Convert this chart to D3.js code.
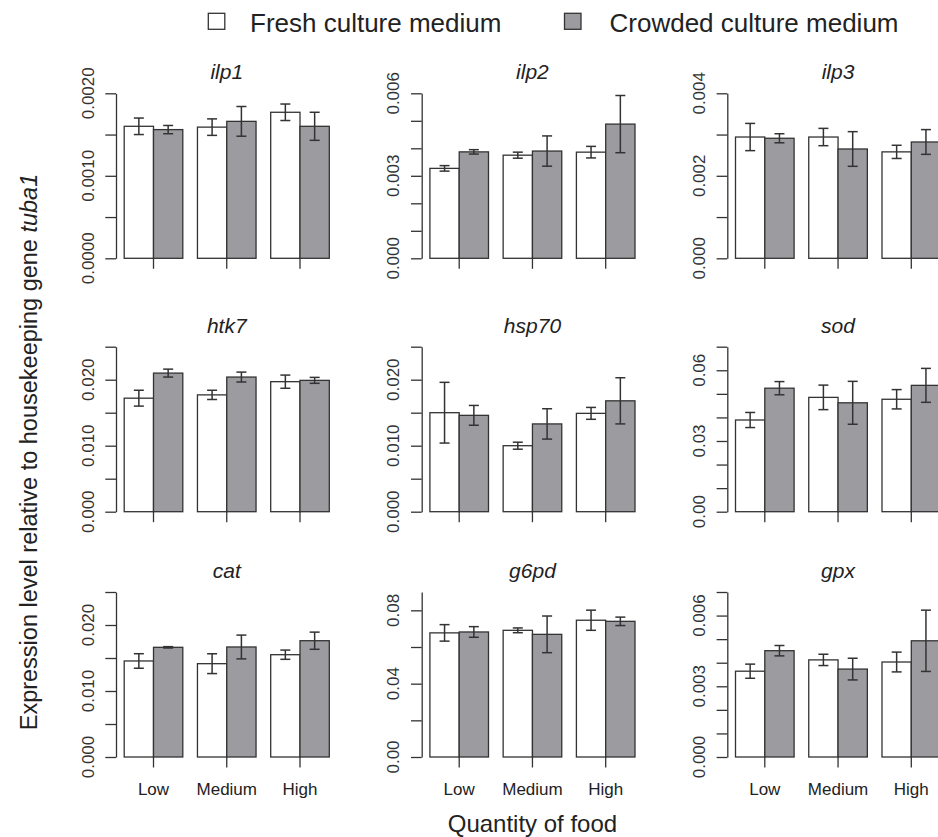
<!DOCTYPE html>
<html>
<head>
<meta charset="utf-8">
<script src="https://cdn.jsdelivr.net/npm/d3@7"></script>
<style>
  body { margin: 0; background: #fff; }
  svg { display: block; font-family: "Liberation Sans", Arial, sans-serif; }
</style>
</head>
<body>
<svg id="chart" width="938" height="837"></svg>
<script>
// gene panels, row by row
const genes = ['ilp1', 'ilp2', 'ilp3', 'htk7', 'hsp70', 'sod', 'cat', 'g6pd', 'gpx'];
const foods = ['Low', 'Medium', 'High'];
const seriesNames = ['Fresh culture medium', 'Crowded culture medium'];

// means and standard errors, one array per gene: [Low, Medium, High]
const freshMean = [
    [0.00160, 0.00159, 0.00177],
    [0.00327, 0.00375, 0.00386],
    [0.00294, 0.00294, 0.00258],
    [0.0172, 0.0177, 0.0197],
    [0.0150, 0.0100, 0.0149],
    [0.0389, 0.0485, 0.0477],
    [0.01455, 0.01414, 0.0155],
    [0.0677, 0.0691, 0.0746],
    [0.00364, 0.00412, 0.00403]
];
const freshSE = [
    [0.00010, 0.00010, 0.00010],
    [0.00010, 0.00011, 0.00021],
    [0.00033, 0.00021, 0.00016],
    [0.0012, 0.0007, 0.0010],
    [0.0046, 0.00053, 0.0009],
    [0.0032, 0.0052, 0.0041],
    [0.0011, 0.0015, 0.0007],
    [0.0045, 0.0013, 0.0055],
    [0.0003, 0.00024, 0.00042]
];
const crowdedMean = [
    [0.00156, 0.00166, 0.00160],
    [0.00387, 0.00390, 0.00488],
    [0.00291, 0.00265, 0.00282],
    [0.0210, 0.0204, 0.0199],
    [0.0146, 0.0133, 0.0168],
    [0.0524, 0.0462, 0.0536],
    [0.01662, 0.01667, 0.01762],
    [0.0682, 0.0669, 0.0740],
    [0.00451, 0.00373, 0.00493]
];
const crowdedSE = [
    [0.00005, 0.00018, 0.00017],
    [0.00008, 0.00055, 0.00104],
    [0.00011, 0.00042, 0.00030],
    [0.0006, 0.00075, 0.00045],
    [0.0015, 0.0023, 0.0035],
    [0.0028, 0.0091, 0.0072],
    [0.0001, 0.0018, 0.0013],
    [0.0029, 0.0100, 0.0023],
    [0.00022, 0.00046, 0.0013]
];

// y axis top and ticks per panel
const yMax = [0.002, 0.006, 0.004, 0.025, 0.025, 0.07, 0.025, 0.09, 0.007];
const yTicks = [
    [0, 0.0005, 0.001, 0.0015, 0.002],
    [0, 0.001, 0.002, 0.003, 0.004, 0.005, 0.006],
    [0, 0.001, 0.002, 0.003, 0.004],
    [0, 0.005, 0.01, 0.015, 0.02, 0.025],
    [0, 0.005, 0.01, 0.015, 0.02, 0.025],
    [0, 0.01, 0.02, 0.03, 0.04, 0.05, 0.06, 0.07],
    [0, 0.005, 0.01, 0.015, 0.02, 0.025],
    [0, 0.02, 0.04, 0.06, 0.08],
    [0, 0.001, 0.002, 0.003, 0.004, 0.005, 0.006, 0.007]
];
const yLabels = [
    ['0.0000', '0.0010', '0.0020'],
    ['0.000', '0.003', '0.006'],
    ['0.000', '0.002', '0.004'],
    ['0.000', '0.010', '0.020'],
    ['0.000', '0.010', '0.020'],
    ['0.00', '0.03', '0.06'],
    ['0.000', '0.010', '0.020'],
    ['0.00', '0.04', '0.08'],
    ['0.000', '0.003', '0.006']
];

const ink = '#333';
const fills = ['#ffffff', '#9c9ca0'];
const colLeft = [116, 421.7, 727.3];
const rowTop = [93.3, 346.7, 592];
const plotW = 221.5, plotH = 165;

const svg = d3.select('#chart');

// legend
const legend = svg.append('g');
[[208.3, 250], [564.5, 609.5]].forEach(function(p, i) {
    legend.append('rect')
        .attr('x', p[0]).attr('y', 13.3)
        .attr('width', 16.5).attr('height', 16)
        .attr('fill', fills[i]).attr('stroke', ink).attr('stroke-width', 1.3);
    legend.append('text')
        .attr('x', p[1]).attr('y', 31.5)
        .attr('fill', '#222')
        .style('font-size', '26px')
        .text(seriesNames[i]);
});

// R barplot style units: bars width 1, groups separated by 0.5, 4% padding
const x = d3.scaleLinear().domain([0.22, 7.78]).range([0, plotW]);

function drawPanel(k) {
    const col = k % 3, row = Math.floor(k / 3);
    const g = svg.append('g')
        .attr('transform', 'translate(' + colLeft[col] + ',' + rowTop[row] + ')');
    const y = d3.scaleLinear().domain([0, yMax[k]]).range([plotH, 0]);

    g.append('text')
        .attr('x', plotW / 2).attr('y', -14)
        .attr('text-anchor', 'middle')
        .style('font-size', '21px').style('font-style', 'italic')
        .attr('fill', '#222')
        .text(genes[k]);

    let bars = [];
    for (let i = 0; i < foods.length; i++) {
        let start = 0.5 + i * 2.5;
        bars.push({x0: start, m: freshMean[k][i], se: freshSE[k][i], s: 0});
        bars.push({x0: start + 1, m: crowdedMean[k][i], se: crowdedSE[k][i], s: 1});
    }

    g.selectAll('rect.bar')
        .data(bars)
        .enter().append('rect')
        .attr('class', 'bar')
        .attr('x', function(d) { return x(d.x0); })
        .attr('width', function(d) { return x(d.x0 + 1) - x(d.x0); })
        .attr('y', function(d) { return y(d.m); })
        .attr('height', function(d) { return plotH - y(d.m); })
        .attr('fill', function(d) { return fills[d.s]; })
        .attr('stroke', ink).attr('stroke-width', 1.3);

    const err = g.append('g').attr('stroke', ink).attr('stroke-width', 1.5);
    bars.forEach(function(d) {
        let cx = x(d.x0 + 0.5);
        err.append('line')
            .attr('x1', cx).attr('x2', cx)
            .attr('y1', y(d.m - d.se)).attr('y2', y(d.m + d.se));
        [d.m - d.se, d.m + d.se].forEach(function(v) {
            err.append('line')
                .attr('x1', cx - 5).attr('x2', cx + 5)
                .attr('y1', y(v)).attr('y2', y(v));
        });
    });

    // y axis, labels only on every other tick (as in the source)
    const yAxis = d3.axisLeft(y)
        .tickValues(yTicks[k])
        .tickSize(10.7)
        .tickSizeOuter(0)
        .tickFormat('');
    const ya = g.append('g').call(yAxis);
    ya.select('.domain').attr('stroke', ink).attr('stroke-width', 1.3);
    ya.selectAll('.tick line').attr('stroke', ink).attr('stroke-width', 1.3);

    yLabels[k].forEach(function(lab) {
        let v = +lab;
        g.append('text')
            .attr('transform', 'translate(-22.5,' + y(v) + ') rotate(-90)')
            .attr('text-anchor', 'middle')
            .attr('fill', '#333')
            .style('font-size', '17px')
            .text(lab);
    });

    // x ticks at the group centres, no axis line
    const xa = g.append('g').attr('transform', 'translate(0,' + plotH + ')');
    xa.selectAll('line')
        .data(foods)
        .enter().append('line')
        .attr('x1', function(d, i) { return x(1.5 + i * 2.5); })
        .attr('x2', function(d, i) { return x(1.5 + i * 2.5); })
        .attr('y1', 0).attr('y2', 10.5)
        .attr('stroke', ink).attr('stroke-width', 1.3);

    if (row === 2) {
        xa.selectAll('text')
            .data(foods)
            .enter().append('text')
            .attr('x', function(d, i) { return x(1.5 + i * 2.5); })
            .attr('y', 38)
            .attr('text-anchor', 'middle')
            .attr('fill', '#222')
            .style('font-size', '17px')
            .text(function(d) { return d; });
    }
}

for (let k = 0; k < genes.length; k++) {
    drawPanel(k);
}

// axis titles
svg.append('text')
    .attr('x', colLeft[1] + plotW / 2).attr('y', 832)
    .attr('text-anchor', 'middle')
    .attr('fill', '#222')
    .style('font-size', '24px')
    .text('Quantity of food');

const yt = svg.append('text')
    .attr('transform', 'translate(37,452) rotate(-90)')
    .attr('text-anchor', 'middle')
    .attr('fill', '#222')
    .style('font-size', '23.5px');
yt.append('tspan').text('Expression level relative to housekeeping gene ');
yt.append('tspan').style('font-style', 'italic').text('tuba1');
</script>
</body>
</html>
